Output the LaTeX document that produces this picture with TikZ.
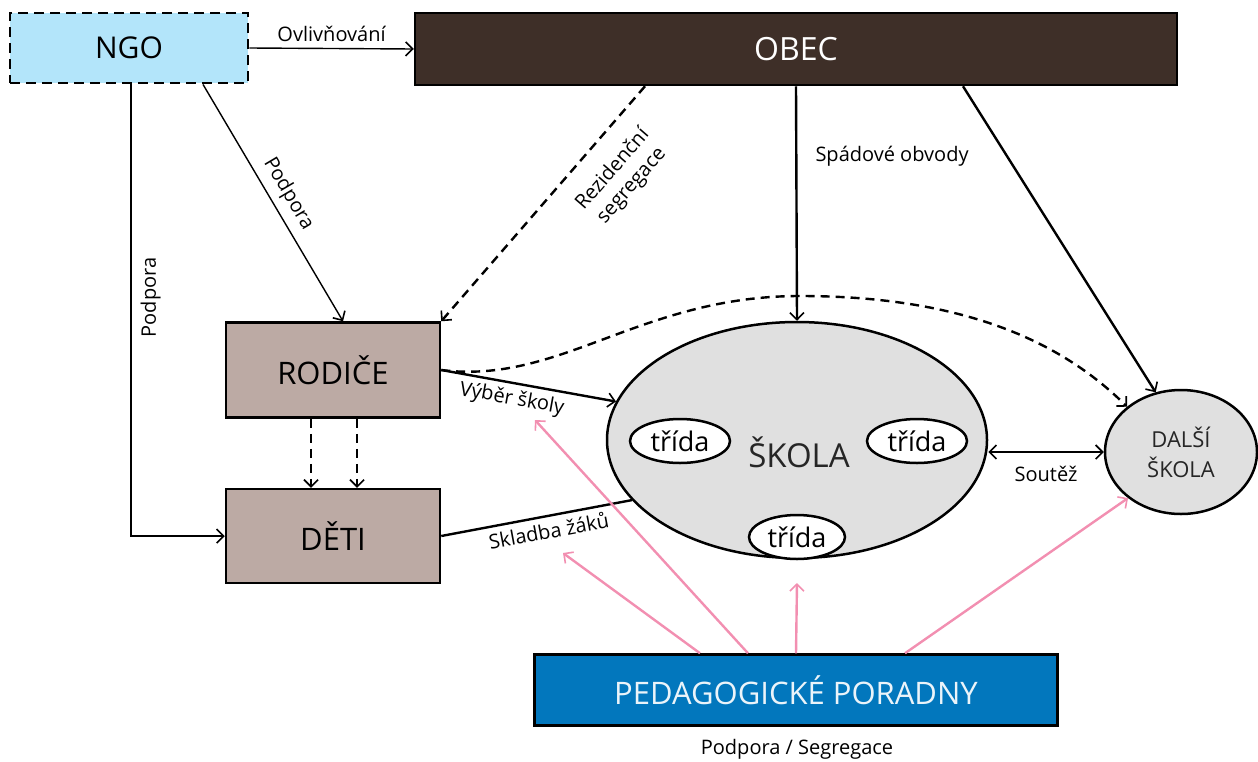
\documentclass[tikz,border=0pt]{standalone}
\usepackage{fontspec}
\setmainfont{Open Sans}
\usetikzlibrary{arrows.meta,shapes.geometric}
\definecolor{ngoblue}{RGB}{179,229,250}
\definecolor{obecbrown}{RGB}{62,47,40}
\definecolor{taupe}{RGB}{188,170,164}
\definecolor{skgray}{RGB}{224,224,224}
\definecolor{pedblue}{RGB}{2,119,189}
\definecolor{pinkarr}{RGB}{242,143,177}
\tikzset{
  box/.style={draw=black, line width=2.5pt, inner sep=0pt, anchor=center},
  lbl/.style={font=\fontsize{20}{25}\selectfont, inner sep=1pt},
  tip/.style={-{Straight Barb[length=7pt,width=14pt,line width=1.6pt]}},
  thinarr/.style={tip, line width=1.4pt},
  thickarr/.style={tip, line width=2.4pt},
  dasharr/.style={tip, line width=2.4pt, dash pattern=on 9pt off 6pt},
  pinkline/.style={-{Straight Barb[length=7pt,width=14pt,line width=1.6pt]}, draw=pinkarr, line width=2.4pt},
  trida/.style={draw=black, line width=2.5pt, fill=white, ellipse, minimum width=100pt, minimum height=44pt, inner sep=0pt, font=\fontsize{27}{30}\selectfont}
}
\begin{document}
\begin{tikzpicture}[x=1pt,y=-1pt]
\useasboundingbox (0,0) rectangle (1258,761);
% nodes
\node[box, line width=2.8pt, dash pattern=on 10pt off 6pt, fill=ngoblue, minimum width=238pt, minimum height=70pt, font=\fontsize{30}{34}\selectfont] (ngo) at (129,48) {NGO};
\node[box, fill=obecbrown, minimum width=762pt, minimum height=72pt, text=white, font=\fontsize{32}{36}\selectfont] (obec) at (796,49) {OBEC};
\node[box, fill=taupe, minimum width=214pt, minimum height=95pt, font=\fontsize{31}{36}\selectfont] (rodice) at (333,370) {RODIČE};
\node[box, fill=taupe, minimum width=214pt, minimum height=94pt, font=\fontsize{31}{36}\selectfont] (deti) at (333,536) {DĚTI};
\node[draw=black, line width=2.5pt, fill=skgray, ellipse, minimum width=380pt, minimum height=236pt, inner sep=0pt] (skola) at (797,440) {};
\node[font=\fontsize{33}{38}\selectfont, text=black!85] (skolat) at (799,452) {ŠKOLA};
\node[trida] (t1) at (680,441) {třída};
\node[trida] (t2) at (917,441) {třída};
\node[trida, minimum width=96pt] (t3) at (797,537) {třída};
\node[draw=black, line width=2.5pt, fill=skgray, ellipse, minimum width=152pt, minimum height=124pt, inner sep=0pt, align=center, text=black!85, font=\fontsize{22}{30}\selectfont] (dalsi) at (1181,452) {DALŠÍ\\ŠKOLA};
\node[box, fill=pedblue, minimum width=523pt, minimum height=71pt, text=white!92!pedblue, font=\fontsize{31}{36}\selectfont] (ped) at (796,690) {PEDAGOGICKÉ PORADNY};
\node[lbl] (pslbl) at (797,749) {Podpora / Segregace};
% free-end coordinates
\coordinate (peak) at (800,296);
\coordinate (pe1) at (563,553);
\coordinate (pe2) at (535,420);
\coordinate (pe3) at (797,583);
% connectors
\draw[thinarr] (ngo.east) -- node[lbl, above=5pt] {Ovlivňování} (obec.west);
\draw[thinarr] ([xshift=74pt]ngo.south) -- node[lbl, sloped, above=6pt, pos=0.5] {Podpora} ([xshift=10pt]rodice.north);
\draw[thinarr] ([xshift=2pt]ngo.south) |- node[lbl, rotate=90, anchor=north, pos=0.236, inner sep=9pt] {Podpora} (deti.west);
\draw[dasharr] ([xshift=-151pt]obec.south) -- node[lbl, sloped, below=18pt, pos=0.27, align=center] {Rezidenční\\segregace} (rodice.north east);
\draw[thickarr] (obec.south) -- node[lbl, right=17pt, pos=0.3] {Spádové obvody} (skola.north);
\draw[thickarr] ([xshift=167pt]obec.south) -- (dalsi.113);
\draw[dasharr] (rodice.east) .. controls (560,385) and (640,296) .. (peak) .. controls (960,296) and (1060,340) .. (dalsi.140);
\draw[thickarr] (rodice.east) -- node[lbl, sloped, below=4pt, pos=0.42] {Výběr školy} (skola.168);
\draw[line width=2.4pt] (deti.east) -- node[lbl, sloped, below=4pt, pos=0.55] {Skladba žáků} (skola.200);
\draw[dasharr] ([xshift=-22pt]rodice.south) -- ([xshift=-22pt]deti.north);
\draw[dasharr] ([xshift=24pt]rodice.south) -- ([xshift=24pt]deti.north);
\draw[thickarr, {Straight Barb[length=7pt,width=14pt,line width=1.6pt]}-{Straight Barb[length=7pt,width=14pt,line width=1.6pt]}] (skola.east |- dalsi.west) -- node[lbl, below=12pt] {Soutěž} (dalsi.west);
\draw[pinkline] ([xshift=-96pt]ped.north) -- (pe1);
\draw[pinkline] ([xshift=-48pt]ped.north) -- (pe2);
\draw[pinkline] (ped.north) -- (pe3);
\draw[pinkline] ([xshift=109pt]ped.north) -- (dalsi.221);
\end{tikzpicture}
\end{document}
